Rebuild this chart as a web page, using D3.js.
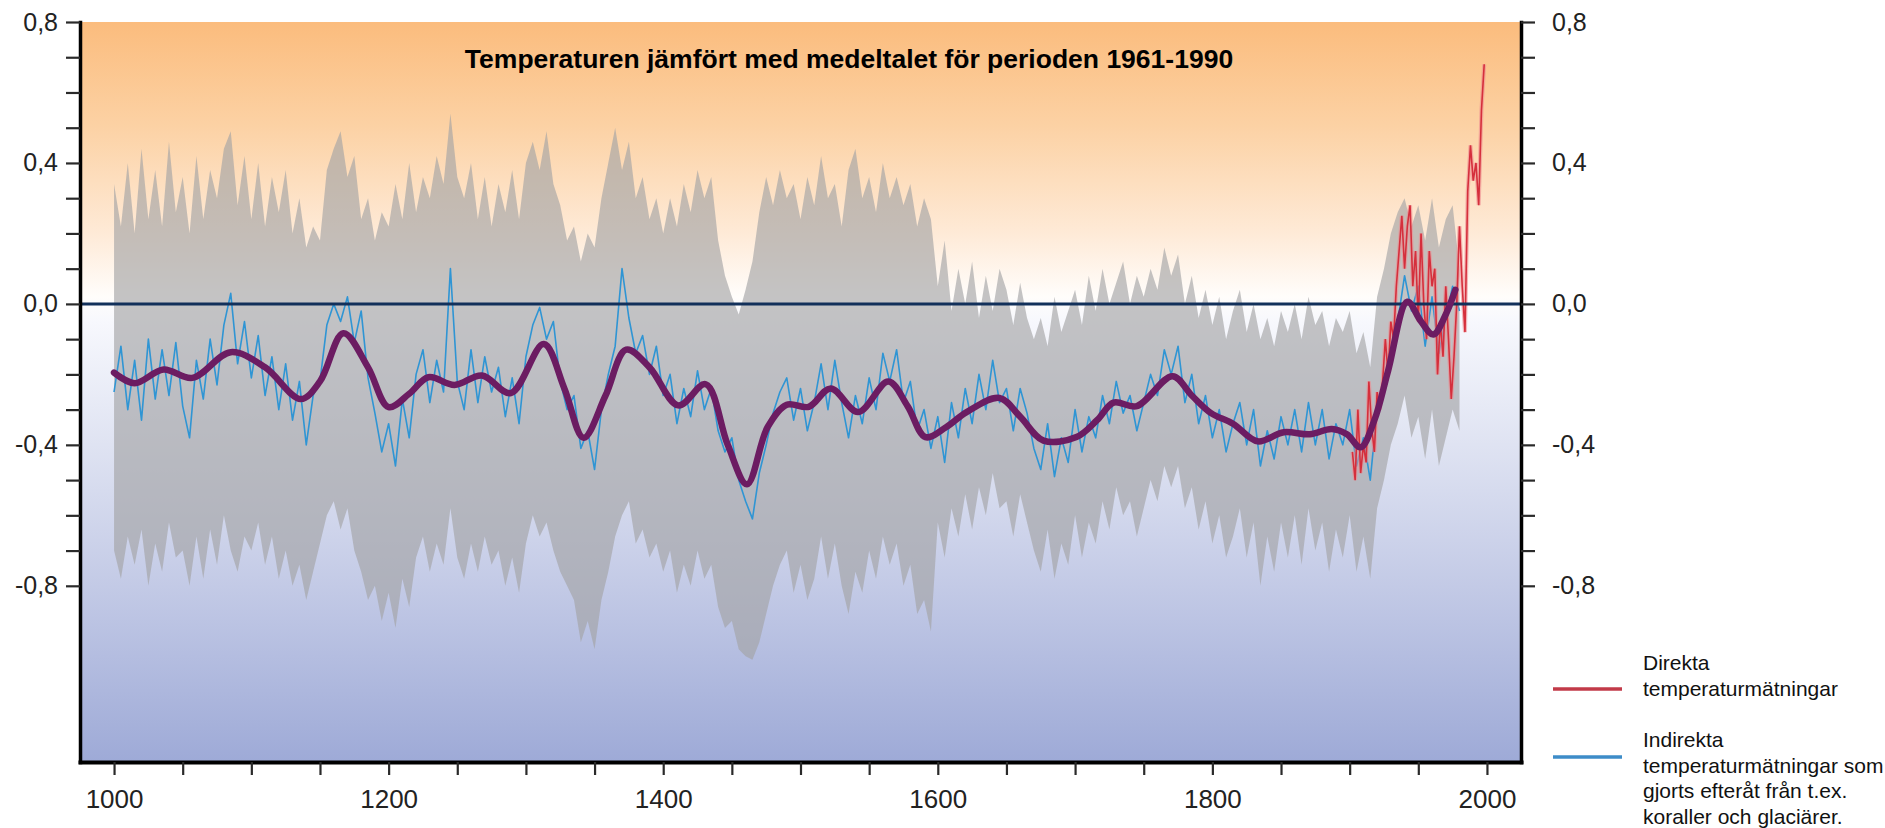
<!DOCTYPE html>
<html>
<head>
<meta charset="utf-8">
<script src="https://cdn.jsdelivr.net/npm/d3@7"></script>
<style>
  body { margin: 0; background: #fff; }
  svg { display: block; font-family: "Liberation Sans", Arial, Helvetica, sans-serif; }
</style>
</head>
<body>
<div id="canvas"></div>
<script>
// years of the 5-year samples of the reconstruction (1000 - 1980)
const bandYears = d3.range(1000, 1981, 5);

// indirect (proxy) reconstruction, blue line
const proxyValues = [
  -0.25, -0.12, -0.30, -0.16, -0.33, -0.10, -0.27, -0.13, -0.26, -0.11, -0.29, -0.38, -0.16, -0.27, -0.10, -0.23, -0.06, 0.03, -0.17, -0.05,
  -0.21, -0.09, -0.26, -0.15, -0.30, -0.17, -0.33, -0.22, -0.40, -0.26, -0.22, -0.06, 0.00, -0.05, 0.02, -0.11, -0.02, -0.21, -0.31, -0.42,
  -0.34, -0.46, -0.27, -0.38, -0.20, -0.13, -0.28, -0.16, -0.25, 0.10, -0.22, -0.30, -0.13, -0.28, -0.15, -0.25, -0.18, -0.32, -0.21, -0.34,
  -0.15, -0.06, -0.01, -0.10, -0.05, -0.22, -0.30, -0.26, -0.41, -0.36, -0.47, -0.30, -0.20, -0.12, 0.10, -0.04, -0.14, -0.09, -0.20, -0.12,
  -0.26, -0.20, -0.34, -0.24, -0.32, -0.19, -0.30, -0.24, -0.36, -0.42, -0.38, -0.50, -0.56, -0.61, -0.48, -0.40, -0.31, -0.25, -0.21, -0.33,
  -0.24, -0.36, -0.28, -0.17, -0.30, -0.16, -0.28, -0.38, -0.26, -0.34, -0.21, -0.30, -0.14, -0.22, -0.13, -0.28, -0.22, -0.36, -0.30, -0.41,
  -0.32, -0.45, -0.28, -0.38, -0.24, -0.34, -0.20, -0.30, -0.16, -0.28, -0.24, -0.36, -0.24, -0.31, -0.41, -0.47, -0.34, -0.49, -0.38, -0.45,
  -0.30, -0.42, -0.32, -0.38, -0.26, -0.34, -0.22, -0.31, -0.26, -0.36, -0.28, -0.20, -0.26, -0.13, -0.20, -0.12, -0.28, -0.20, -0.34, -0.26,
  -0.38, -0.30, -0.42, -0.34, -0.28, -0.40, -0.30, -0.46, -0.36, -0.44, -0.32, -0.40, -0.30, -0.42, -0.28, -0.40, -0.30, -0.44, -0.34, -0.40,
  -0.30, -0.46, -0.38, -0.50, -0.30, -0.24, -0.12, -0.05, 0.08, -0.02, 0.05, -0.12, 0.02, -0.14, -0.04, 0.05, -0.02
];

// uncertainty band, upper edge
const bandUpper = [
  0.34, 0.22, 0.40, 0.20, 0.44, 0.24, 0.38, 0.22, 0.46, 0.26, 0.36, 0.20, 0.42, 0.24, 0.38, 0.30, 0.44, 0.49, 0.28, 0.42,
  0.24, 0.40, 0.22, 0.36, 0.26, 0.38, 0.20, 0.30, 0.16, 0.22, 0.18, 0.38, 0.44, 0.49, 0.36, 0.42, 0.24, 0.30, 0.18, 0.26,
  0.22, 0.34, 0.24, 0.40, 0.26, 0.36, 0.30, 0.42, 0.34, 0.54, 0.36, 0.30, 0.40, 0.24, 0.36, 0.22, 0.34, 0.26, 0.38, 0.24,
  0.40, 0.46, 0.38, 0.49, 0.34, 0.28, 0.18, 0.22, 0.12, 0.20, 0.16, 0.30, 0.40, 0.50, 0.38, 0.46, 0.30, 0.36, 0.24, 0.30,
  0.20, 0.30, 0.22, 0.34, 0.26, 0.38, 0.30, 0.36, 0.18, 0.08, 0.02, -0.03, 0.04, 0.12, 0.26, 0.36, 0.28, 0.38, 0.30, 0.34,
  0.24, 0.36, 0.28, 0.42, 0.30, 0.34, 0.22, 0.38, 0.44, 0.30, 0.36, 0.26, 0.40, 0.30, 0.36, 0.28, 0.34, 0.22, 0.30, 0.24,
  0.05, 0.18, -0.02, 0.10, 0.00, 0.12, -0.04, 0.08, -0.02, 0.10, 0.04, -0.06, 0.06, -0.04, -0.10, -0.04, -0.12, 0.02, -0.08, -0.02,
  0.04, -0.06, 0.08, -0.02, 0.10, 0.00, 0.06, 0.12, 0.00, 0.08, 0.02, 0.10, 0.04, 0.16, 0.08, 0.14, 0.00, 0.08, -0.04, 0.04,
  -0.06, 0.02, -0.10, -0.02, 0.04, -0.08, 0.00, -0.10, -0.04, -0.12, -0.02, -0.08, 0.00, -0.10, 0.02, -0.06, -0.02, -0.12, -0.04, -0.08,
  -0.02, -0.14, -0.08, -0.18, 0.02, 0.10, 0.20, 0.26, 0.30, 0.22, 0.28, 0.18, 0.30, 0.16, 0.24, 0.28, 0.10
];

// uncertainty band, lower edge
const bandLower = [
  -0.70, -0.78, -0.66, -0.74, -0.64, -0.80, -0.68, -0.76, -0.62, -0.72, -0.70, -0.80, -0.66, -0.78, -0.64, -0.74, -0.60, -0.70, -0.76, -0.66,
  -0.70, -0.62, -0.74, -0.66, -0.78, -0.70, -0.80, -0.74, -0.84, -0.76, -0.68, -0.60, -0.56, -0.64, -0.58, -0.70, -0.76, -0.84, -0.80, -0.90,
  -0.82, -0.92, -0.78, -0.86, -0.72, -0.66, -0.76, -0.68, -0.74, -0.58, -0.72, -0.78, -0.68, -0.76, -0.66, -0.74, -0.70, -0.80, -0.72, -0.82,
  -0.68, -0.60, -0.66, -0.62, -0.70, -0.76, -0.80, -0.84, -0.96, -0.90, -0.98, -0.84, -0.76, -0.66, -0.60, -0.56, -0.68, -0.64, -0.72, -0.68,
  -0.76, -0.70, -0.82, -0.74, -0.80, -0.70, -0.78, -0.74, -0.86, -0.92, -0.90, -0.98, -1.00, -1.01, -0.96, -0.88, -0.80, -0.74, -0.70, -0.82,
  -0.74, -0.84, -0.78, -0.66, -0.78, -0.68, -0.80, -0.88, -0.76, -0.82, -0.70, -0.78, -0.66, -0.74, -0.68, -0.80, -0.74, -0.88, -0.84, -0.93,
  -0.62, -0.72, -0.58, -0.66, -0.54, -0.64, -0.52, -0.60, -0.48, -0.58, -0.56, -0.66, -0.54, -0.62, -0.70, -0.76, -0.64, -0.78, -0.68, -0.74,
  -0.60, -0.72, -0.62, -0.68, -0.56, -0.64, -0.52, -0.60, -0.56, -0.66, -0.58, -0.50, -0.56, -0.46, -0.52, -0.46, -0.58, -0.52, -0.64, -0.56,
  -0.68, -0.60, -0.72, -0.66, -0.58, -0.72, -0.62, -0.80, -0.66, -0.76, -0.62, -0.72, -0.60, -0.74, -0.58, -0.70, -0.62, -0.76, -0.64, -0.72,
  -0.60, -0.76, -0.66, -0.78, -0.58, -0.50, -0.40, -0.34, -0.26, -0.38, -0.32, -0.44, -0.30, -0.46, -0.38, -0.30, -0.36
];

// smoothed curve (purple), turning points
const smoothYears = [1000, 1015, 1036, 1057, 1085, 1110, 1136, 1150, 1167, 1185, 1200, 1215, 1229, 1248, 1268, 1289, 1313, 1328, 1342, 1358,
  1373, 1390, 1411, 1431, 1447, 1461, 1476, 1490, 1506, 1522, 1542, 1564, 1578, 1591, 1606, 1621, 1645, 1660, 1677, 1701,
  1716, 1728, 1745, 1771, 1785, 1799, 1815, 1833, 1852, 1871, 1887, 1898, 1908, 1918, 1928, 1942, 1952, 1961, 1970, 1977];
const smoothValues = [-0.195, -0.225, -0.186, -0.21, -0.137, -0.18, -0.27, -0.22, -0.083, -0.18, -0.293, -0.255, -0.208, -0.23, -0.203, -0.253, -0.114, -0.24, -0.38, -0.26,
  -0.13, -0.18, -0.288, -0.228, -0.40, -0.512, -0.35, -0.286, -0.292, -0.24, -0.307, -0.22, -0.29, -0.378, -0.35, -0.307, -0.267, -0.32, -0.388, -0.378,
  -0.33, -0.28, -0.29, -0.205, -0.26, -0.31, -0.34, -0.39, -0.364, -0.37, -0.355, -0.37, -0.407, -0.33, -0.19, 0.006, -0.05, -0.087, -0.03, 0.04];

// direct (instrumental) measurements, red line
const directYears = d3.range(1902, 1999, 2);
const directValues = [
  -0.42, -0.50, -0.30, -0.48, -0.40, -0.45, -0.22, -0.35, -0.42, -0.25, -0.30, -0.22, -0.10, -0.20, -0.05, -0.10, 0.05, 0.15, 0.25, 0.10,
  0.22, 0.28, 0.05, 0.15, -0.05, 0.20, 0.00, -0.10, 0.15, 0.05, 0.10, -0.20, -0.05, -0.15, 0.05, -0.10, -0.27, -0.15, 0.00, 0.22,
  0.05, -0.08, 0.32, 0.45, 0.35, 0.40, 0.28, 0.55, 0.68
];

const yTicks = [-0.8, -0.7, -0.6, -0.5, -0.4, -0.3, -0.2, -0.1, 0, 0.1, 0.2, 0.3, 0.4, 0.5, 0.6, 0.7, 0.8];
const xTicks = d3.range(1000, 2001, 50);

const title = "Temperaturen jämfört med medeltalet för perioden 1961-1990";
const legendItems = [
  {color: "#c23a48", lines: ["Direkta", "temperaturmätningar"]},
  {color: "#3d8cc8", lines: ["Indirekta", "temperaturmätningar som", "gjorts efteråt från t.ex.", "koraller och glaciärer."]}
];

// set the dimensions of the graph
const width = 1885, height = 828;
const plot = {left: 80, right: 1521, top: 22, bottom: 762};

const svg = d3.select("#canvas")
    .append("svg")
    .attr("width", width)
    .attr("height", height);

const xScale = d3.scaleLinear()
    .domain([975.2, 2024.8])
    .range([plot.left, plot.right]);

const yScale = d3.scaleLinear()
    .domain([-1.3, 0.8])
    .range([plot.bottom, plot.top]);

// background gradient: orange on top, white at zero, blue at the bottom
const defs = svg.append("defs");
const grad = defs.append("linearGradient")
    .attr("id", "bg")
    .attr("gradientUnits", "userSpaceOnUse")
    .attr("x1", 0).attr("x2", 0)
    .attr("y1", plot.top).attr("y2", plot.bottom);

[[0.8, "#fbbc7d"], [0.5, "#fcd2a5"], [0.2, "#feead7"], [0.02, "#fffdfb"], [-0.05, "#f7f8fd"],
 [-0.4, "#dfe3f2"], [-0.8, "#c3cae6"], [-1.3, "#9eaad7"]].forEach(s => {
    grad.append("stop")
        .attr("offset", (yScale(s[0]) - plot.top) / (plot.bottom - plot.top))
        .attr("stop-color", s[1]);
});

svg.append("rect")
    .attr("x", plot.left)
    .attr("y", plot.top)
    .attr("width", plot.right - plot.left)
    .attr("height", plot.bottom - plot.top)
    .style("fill", "url(#bg)");

// grey uncertainty band
const band = d3.area()
    .x(i => xScale(bandYears[i]))
    .y0(i => yScale(bandLower[i]))
    .y1(i => yScale(bandUpper[i]));

svg.append("path")
    .datum(d3.range(bandYears.length))
    .attr("d", band)
    .style("fill", "#a3a2a4")
    .style("fill-opacity", 0.64);

// blue proxy line
const proxyLine = d3.line()
    .x(i => xScale(bandYears[i]))
    .y(i => yScale(proxyValues[i]));

svg.append("path")
    .datum(d3.range(bandYears.length))
    .attr("d", proxyLine)
    .style("fill", "none")
    .style("stroke", "#2f95d4")
    .style("stroke-width", 1.6)
    .style("stroke-linejoin", "round");

// red instrumental line (with a pale halo)
const directLine = d3.line()
    .x(i => xScale(directYears[i]))
    .y(i => yScale(directValues[i]));

svg.append("path")
    .datum(d3.range(directYears.length))
    .attr("d", directLine)
    .style("fill", "none")
    .style("stroke", "#ef8a90")
    .style("stroke-opacity", 0.6)
    .style("stroke-width", 4);

svg.append("path")
    .datum(d3.range(directYears.length))
    .attr("d", directLine)
    .style("fill", "none")
    .style("stroke", "#d52f3c")
    .style("stroke-width", 1.6);

// zero line
svg.append("line")
    .attr("x1", plot.left)
    .attr("x2", plot.right)
    .attr("y1", yScale(0))
    .attr("y2", yScale(0))
    .style("stroke", "#12305a")
    .style("stroke-width", 3);

// smoothed purple curve
const smoothLine = d3.line()
    .curve(d3.curveCatmullRom.alpha(0.5))
    .x(i => xScale(smoothYears[i]))
    .y(i => yScale(smoothValues[i]));

svg.append("path")
    .datum(d3.range(smoothYears.length))
    .attr("d", smoothLine)
    .style("fill", "none")
    .style("stroke", "#6c1c62")
    .style("stroke-width", 6.5)
    .style("stroke-linecap", "round");

// axes
const yFormat = d => {
    const k = Math.round(d * 10);
    if (k % 4 !== 0) return "";
    return (k < 0 ? "-" : "") + (Math.abs(k) / 10).toFixed(1).replace(".", ",");
};

function styleAxis(g, lineWidth, fontSize) {
    g.attr("font-family", null).attr("font-size", fontSize);
    g.select(".domain")
        .style("stroke", "#000")
        .style("stroke-width", lineWidth)
        .style("stroke-linecap", "square");
    g.selectAll(".tick line")
        .style("stroke", "#2a2a2a")
        .style("stroke-width", 2.2);
    g.selectAll(".tick text").style("fill", "#222");
}

svg.append("g")
    .attr("transform", "translate(" + plot.left + ",0)")
    .call(d3.axisLeft(yScale).tickValues(yTicks).tickSize(14).tickSizeOuter(0).tickPadding(8).tickFormat(yFormat))
    .call(g => styleAxis(g, 3.5, 25));

svg.append("g")
    .attr("transform", "translate(" + plot.right + ",0)")
    .call(d3.axisRight(yScale).tickValues(yTicks).tickSize(14).tickSizeOuter(0).tickPadding(17).tickFormat(yFormat))
    .call(g => styleAxis(g, 3.5, 25));

svg.append("g")
    .attr("transform", "translate(0," + plot.bottom + ")")
    .call(d3.axisBottom(xScale).tickValues(xTicks).tickSize(13).tickSizeOuter(0).tickPadding(15)
        .tickFormat(d => d % 200 === 0 ? d : ""))
    .call(g => styleAxis(g, 4, 26));

// title
svg.append("text")
    .attr("x", 849)
    .attr("y", 68)
    .attr("text-anchor", "middle")
    .style("font-size", "26.5px")
    .style("font-weight", "bold")
    .style("fill", "#000")
    .text(title);

// legend
const legendTop = [670, 747];
const legendLineY = [689, 757];
legendItems.forEach((item, i) => {
    const g = svg.append("g");
    g.append("line")
        .attr("x1", 1553).attr("x2", 1622)
        .attr("y1", legendLineY[i]).attr("y2", legendLineY[i])
        .style("stroke", item.color)
        .style("stroke-width", 3.5);
    item.lines.forEach((t, j) => {
        g.append("text")
            .attr("x", 1643)
            .attr("y", legendTop[i] + j * 25.5)
            .style("font-size", "21px")
            .style("fill", "#111")
            .text(t);
    });
});
</script>
</body>
</html>
